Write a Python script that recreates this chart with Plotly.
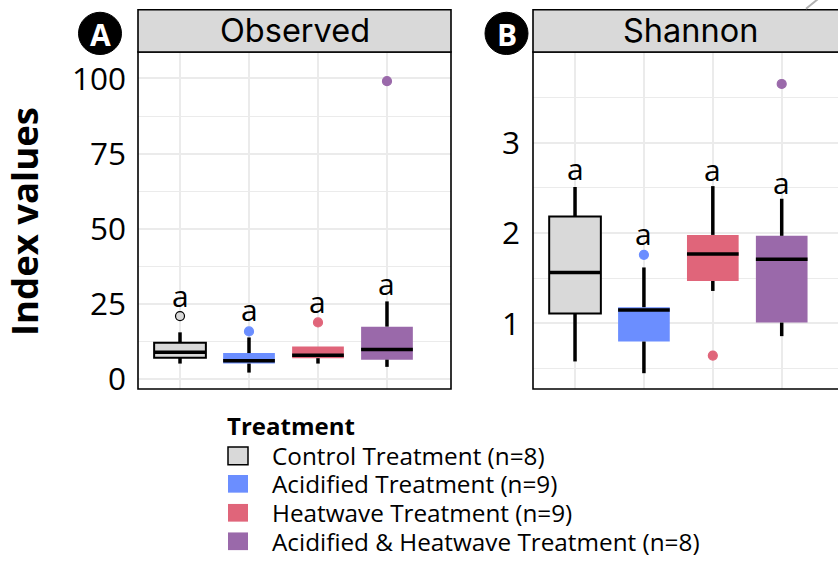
import plotly.graph_objects as go

W, H = 838, 567

# ---------------- data ----------------
treatments = ["Control Treatment (n=8)", "Acidified Treatment (n=9)",
              "Heatwave Treatment (n=9)", "Acidified & Heatwave Treatment (n=8)"]
positions = [1, 2, 3, 4]
colors = ["#D9D9D9", "#6B8EFF", "#E0657A", "#9A69AA"]
letters = ["a", "a", "a", "a"]

obs_lower = [5.1, 2.1, 5.1, 4.0]
obs_q1 = [7.0, 5.1, 6.9, 6.4]
obs_median = [8.9, 6.0, 7.9, 9.8]
obs_q3 = [12.0, 8.6, 10.8, 17.4]
obs_upper = [15.5, 13.8, 10.8, 25.8]
obs_outliers = [[20.9], [15.8], [18.8], [99.1]]
obs_letter_y = [28.7, 24.0, 26.7, 32.9]
obs_ticks = [0, 25, 50, 75, 100]

sha_lower = [0.58, 0.45, 1.36, 0.86]
sha_q1 = [1.11, 0.80, 1.47, 1.01]
sha_median = [1.565, 1.15, 1.77, 1.71]
sha_q3 = [2.185, 1.18, 1.98, 1.97]
sha_upper = [2.51, 1.62, 2.52, 2.38]
sha_outliers = [[], [1.76], [0.645], [3.65]]
sha_letter_y = [2.75, 2.03, 2.74, 2.59]
sha_ticks = [1, 2, 3]

panels = ["Observed", "Shannon"]
panel_tags = ["A", "B"]


def px(x):
    return x / W


def py(y):
    return 1 - y / H


fig = go.Figure()
box_w = 0.75
annotations = []


def add_panel(xa, ya, lower, q1, med, q3, upper, outliers, letter_y):
    # boxes
    fig.add_trace(go.Bar(
        x=positions, y=[b - a for a, b in zip(q1, q3)], base=q1, width=box_w,
        marker=dict(color=colors,
                    line=dict(color=["black"] + colors[1:], width=[2, 0, 0, 0])),
        xaxis=xa, yaxis=ya, showlegend=False, hoverinfo="skip"))
    # whiskers
    wx, wy = [], []
    for p, lo, a, b, hi in zip(positions, lower, q1, q3, upper):
        wx += [p, p, None, p, p, None]
        wy += [b, hi, None, lo, a, None]
    fig.add_trace(go.Scatter(x=wx, y=wy, mode="lines",
                             line=dict(color="black", width=3.5),
                             xaxis=xa, yaxis=ya, showlegend=False, hoverinfo="skip"))
    # medians
    mx, my = [], []
    for p, m in zip(positions, med):
        mx += [p - box_w / 2, p + box_w / 2, None]
        my += [m, m, None]
    fig.add_trace(go.Scatter(x=mx, y=my, mode="lines",
                             line=dict(color="black", width=3.5),
                             xaxis=xa, yaxis=ya, showlegend=False, hoverinfo="skip"))
    # outliers
    for p, outs, c, i in zip(positions, outliers, colors, range(4)):
        if not outs:
            continue
        fig.add_trace(go.Scatter(
            x=[p] * len(outs), y=outs, mode="markers",
            marker=dict(color=c, size=9,
                        line=dict(color="black" if i == 0 else c, width=1.2)),
            xaxis=xa, yaxis=ya, showlegend=False, hoverinfo="skip"))
    # letters
    for p, ly, t in zip(positions, letter_y, letters):
        annotations.append(dict(text=t, x=p, y=ly, xref=xa, yref=ya,
                                showarrow=False, yshift=-3,
                                xanchor="center", yanchor="middle",
                                font=dict(family="Open Sans", size=30, color="black")))


add_panel("x", "y", obs_lower, obs_q1, obs_median, obs_q3, obs_upper, obs_outliers, obs_letter_y)
add_panel("x2", "y2", sha_lower, sha_q1, sha_median, sha_q3, sha_upper, sha_outliers, sha_letter_y)

grid = "#EBEBEB"
tickfont = dict(family="Open Sans", size=31.5, color="black")
common_x = dict(tickvals=positions, showticklabels=False, showgrid=True,
                gridcolor=grid, gridwidth=1.5, zeroline=False, ticks="",
                showline=False)

y_top, y_bot = 53, 396
fig.update_layout(
    width=W, height=H, margin=dict(l=0, r=0, t=0, b=0),
    paper_bgcolor="white", plot_bgcolor="white",
    barmode="overlay", showlegend=False,
    xaxis=dict(domain=[px(138), px(451)], range=[0.391, 4.928], **common_x),
    xaxis2=dict(domain=[px(533), 1.0], range=[0.39, 4.817], anchor="y2", **common_x),
    yaxis=dict(domain=[py(y_bot), py(y_top)], range=[-3.37, 108.8],
               tickvals=obs_ticks, tickfont=tickfont, showgrid=True,
               gridcolor=grid, gridwidth=1.6, zeroline=False, ticks="",
               ticklabelstandoff=11,
               minor=dict(dtick=12.5, tick0=0, showgrid=True, gridcolor=grid, gridwidth=1)),
    yaxis2=dict(domain=[py(y_bot), py(y_top)], range=[0.275, 4.003], anchor="x2",
                tickvals=sha_ticks, tickfont=tickfont, showgrid=True,
                gridcolor=grid, gridwidth=1.6, zeroline=False, ticks="",
                ticklabelstandoff=12,
                minor=dict(dtick=0.5, tick0=0, showgrid=True, gridcolor=grid, gridwidth=1)),
)

shapes = []
panel_x = [(138, 451), (533, 847)]
tag_centers = [(100, 34), (506.5, 34)]
for (x0, x1), name, tag, (cx, cy) in zip(panel_x, panels, panel_tags, tag_centers):
    # panel border
    shapes.append(dict(type="rect", xref="paper", yref="paper",
                       x0=px(x0), x1=px(x1), y0=py(y_bot), y1=py(y_top),
                       line=dict(color="black", width=1.6), layer="above"))
    # strip
    shapes.append(dict(type="rect", xref="paper", yref="paper",
                       x0=px(x0), x1=px(x1), y0=py(y_top), y1=py(10),
                       fillcolor="#D9D9D9", line=dict(color="black", width=1.6)))
    annotations.append(dict(text=name, xref="paper", yref="paper",
                            x=px((x0 + x1) / 2), y=py(31.5), showarrow=False,
                            xanchor="center", yanchor="middle",
                            font=dict(family="Inter", size=32.5, color="black")))
    # tag circle
    shapes.append(dict(type="circle", xref="paper", yref="paper",
                       x0=px(cx - 21.5), x1=px(cx + 21.5), y0=py(cy + 21.5), y1=py(cy - 21.5),
                       fillcolor="black", line=dict(color="black", width=1)))
    annotations.append(dict(text="<b>" + tag + "</b>", xref="paper", yref="paper",
                            x=px(cx), y=py(cy + 1), showarrow=False,
                            xanchor="center", yanchor="middle",
                            font=dict(family="Open Sans", size=30, color="white")))

# y-axis title
annotations.append(dict(text="<b>Index values</b>", xref="paper", yref="paper",
                        x=px(24), y=py(226), showarrow=False, textangle=-90,
                        xanchor="center", yanchor="middle",
                        font=dict(family="Open Sans", size=36.5, color="black")))

# legend
annotations.append(dict(text="<b>Treatment</b>", xref="paper", yref="paper",
                        x=px(225), y=py(433), showarrow=False,
                        xanchor="left", yanchor="middle",
                        font=dict(family="Open Sans", size=24, color="black")))
leg_y = [464, 492.5, 522, 551]
for i, (name, c, ly) in enumerate(zip(treatments, colors, leg_y)):
    shapes.append(dict(type="rect", xref="paper", yref="paper",
                       x0=px(228), x1=px(248), y0=py(ly + 9), y1=py(ly - 9),
                       fillcolor=c,
                       line=dict(color="black" if i == 0 else c, width=1.5 if i == 0 else 0)))
    annotations.append(dict(text=name, xref="paper", yref="paper",
                            x=px(270), y=py(ly), showarrow=False,
                            xanchor="left", yanchor="middle",
                            font=dict(family="Open Sans", size=24.3, color="black")))

# small grey artefact line at top right
shapes.append(dict(type="line", xref="paper", yref="paper",
                   x0=px(806), y0=py(9), x1=px(818), y1=py(-1),
                   line=dict(color="#B0B0B0", width=2)))

fig.update_layout(shapes=shapes, annotations=annotations)
fig.write_html("out.html")
